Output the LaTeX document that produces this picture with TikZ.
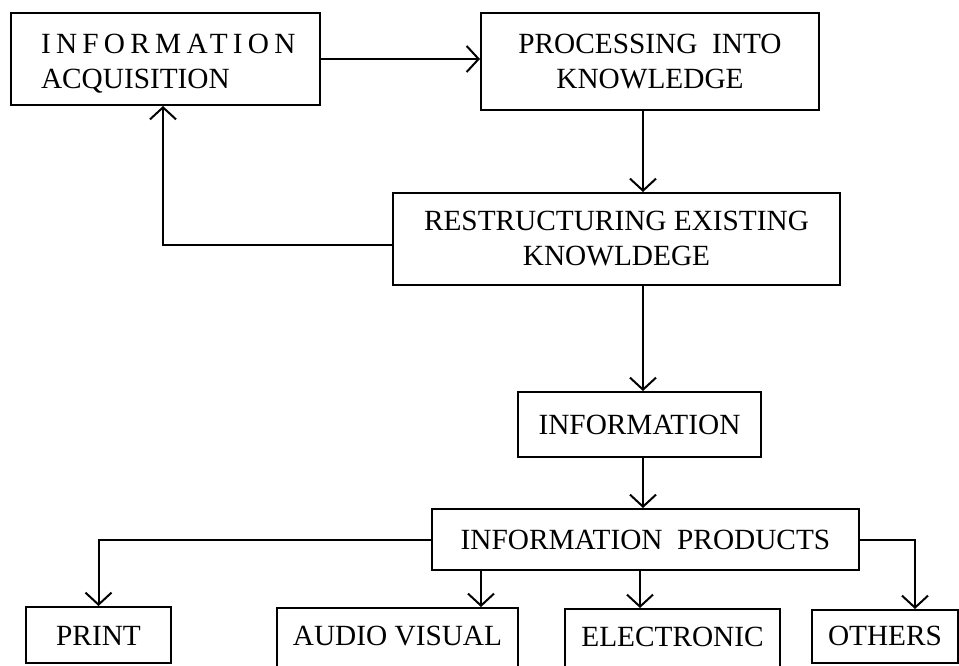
\documentclass[tikz,border=0pt]{standalone}
\usepackage{fontspec}
\setmainfont{Liberation Serif}
\newfontfamily\spacedfont[LetterSpace=18]{Liberation Serif}
\usetikzlibrary{arrows.meta}
\begin{document}
\begin{tikzpicture}[x=1pt,y=-1pt,
  box/.style={draw, line width=2pt, inner sep=0pt, align=center,
    font=\fontsize{29.3}{35}\selectfont},
  arr/.style={line width=2pt, -{Straight Barb[length=12pt,width=26pt]}}]
\useasboundingbox (0,0) rectangle (959,666);
\fill[white] (0,0) rectangle (959,666);
\node[box, minimum width=309pt, minimum height=92pt, text width=309pt, align=left] (acq) at (165.5,59)
  {\hspace*{30pt}\rule{0pt}{28.5pt}{\spacedfont INFORMATION}\\\hspace*{30pt}ACQUISITION};
\node[box, minimum width=338pt, minimum height=97pt] (proc) at (650,61.5)
  {PROCESSING\ \ INTO\\KNOWLEDGE};
\node[box, minimum width=447pt, minimum height=92pt] (restr) at (616.5,239)
  {RESTRUCTURING EXISTING\\KNOWLDEGE};
\node[box, minimum width=243pt, minimum height=65pt] (info) at (639.5,424.5)
  {INFORMATION};
\node[box, minimum width=427pt, minimum height=61pt] (prod) at (645.5,539.5)
  {INFORMATION\ \ PRODUCTS};
\node[box, minimum width=145pt, minimum height=56pt, text height=22pt, text depth=2pt] (print) at (98.5,635)
  {PRINT};
\node[box, minimum width=241pt, minimum height=64pt, text height=22pt, text depth=12pt] (audio) at (397.5,640)
  {AUDIO VISUAL};
\node[box, minimum width=215pt, minimum height=64pt, text height=22pt, text depth=12pt] (elec) at (672.5,641)
  {ELECTRONIC};
\node[box, minimum width=146pt, minimum height=53pt, text height=22pt, text depth=4pt] (others) at (885,636.5)
  {OTHERS};
\coordinate (col) at (643,0);
\coordinate (fb) at (163,245);
\coordinate (ac) at (481,0);
\coordinate (ec) at (640,0);
\coordinate (oc) at (915,0);
\draw[arr] (acq.east) -- (acq.east -| proc.west);
\draw[arr] (proc.south -| col) -- (restr.north -| col);
\draw[arr] (restr.west |- fb) -- (fb) -- (fb |- acq.south);
\draw[arr] (restr.south -| col) -- (info.north -| col);
\draw[arr] (info.south -| col) -- (prod.north -| col);
\draw[arr] (prod.west) -| (print.north);
\draw[arr] (prod.south -| ac) -- (audio.north -| ac);
\draw[arr] (prod.south -| ec) -- (elec.north -| ec);
\draw[arr] (prod.east) -| (others.north -| oc);
\end{tikzpicture}
\end{document}
